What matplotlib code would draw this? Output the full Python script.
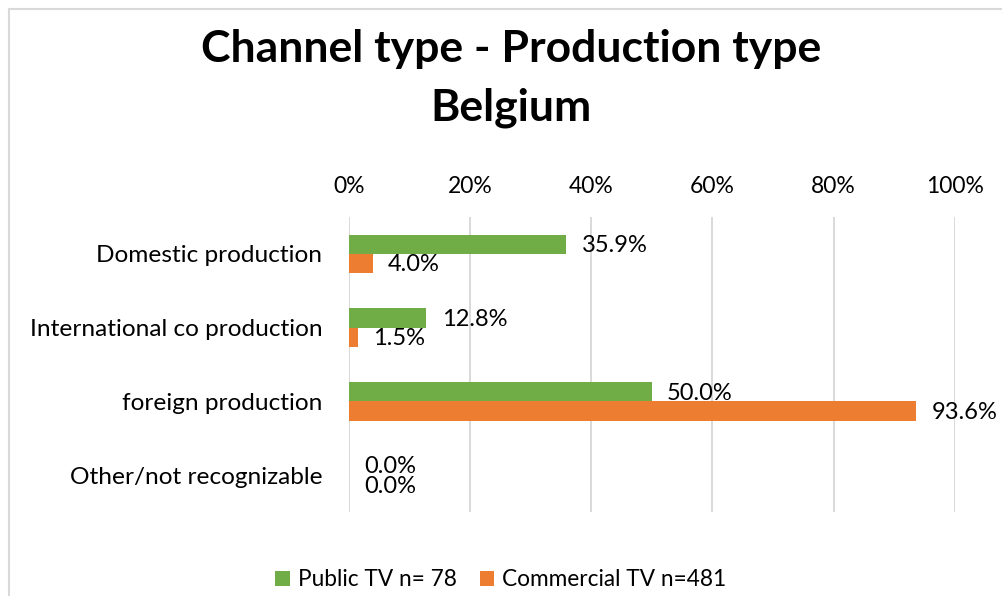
import matplotlib
matplotlib.use('Agg')
import matplotlib.pyplot as plt
import numpy as np
from matplotlib.patches import Rectangle

plt.rcParams['font.family'] = ['Lato', 'DejaVu Sans']

categories = ['Domestic production', 'International co production',
              'foreign production', 'Other/not recognizable']
public_tv = [35.9, 12.8, 50.0, 0.0]
commercial_tv = [4.0, 1.5, 93.6, 0.0]
series_names = ['Public TV n= 78', 'Commercial TV n=481']
xticks = [0, 20, 40, 60, 80, 100]

green = '#70AD47'
orange = '#ED7D31'

fig = plt.figure(figsize=(10.02, 5.96), dpi=100)
ax = fig.add_axes([0.348, 0.141, 0.605, 0.495])

y = np.arange(len(categories))
h = 0.26
b1 = ax.barh(y - h / 2, public_tv, h, color=green, label=series_names[0])
b2 = ax.barh(y + h / 2, commercial_tv, h, color=orange, label=series_names[1])

for bars, vals in [(b1, public_tv), (b2, commercial_tv)]:
    for rect, v in zip(bars, vals):
        ax.annotate(f'{v:.1f}%', (rect.get_width(), rect.get_y() + rect.get_height() / 2),
                    xytext=(11, -1), textcoords='offset points',
                    va='center', ha='left', fontsize=17, color='#000000')

ax.set_xlim(0, 100)
ax.set_ylim(3.5, -0.5)
ax.set_yticks(y)
ax.set_yticklabels(categories, fontsize=17.6)
ax.set_xticks(xticks)
ax.set_xticklabels([f'{t}%' for t in xticks], fontsize=16.5)
ax.xaxis.tick_top()
ax.tick_params(axis='x', length=0, pad=14)
ax.tick_params(axis='y', length=0, pad=19)
ax.grid(axis='x', color='#D9D9D9', linewidth=1.4)
ax.set_axisbelow(True)
for s in ax.spines.values():
    s.set_visible(False)

fig.text(0.51, 0.868, 'Channel type - Production type\nBelgium', ha='center', va='center',
         fontsize=32, fontweight='bold', linespacing=1.55)

fig.legend(handles=[b1, b2], labels=series_names, loc='center', bbox_to_anchor=(0.5, 0.027),
           ncol=2, frameon=False, fontsize=16.3, handlelength=0.65, handleheight=0.65,
           handletextpad=0.35, columnspacing=1.0)

fig.add_artist(Rectangle((9 / 1002, -0.1), 1.1, 1 - 9 / 596 + 0.1, transform=fig.transFigure,
                         fill=False, edgecolor='#D9D9D9', linewidth=1.5))

fig.savefig('out.png', dpi=100)
